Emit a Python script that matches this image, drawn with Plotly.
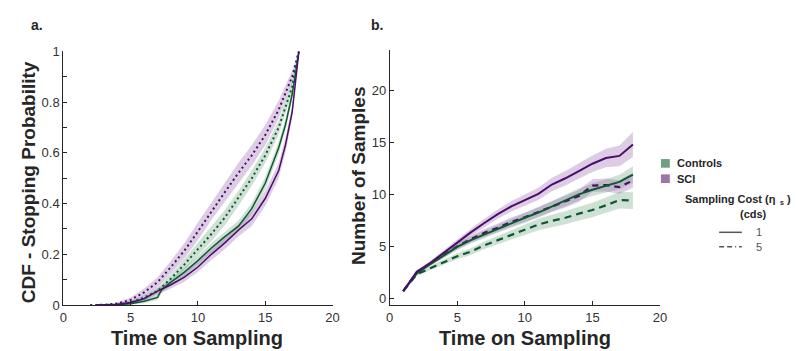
import plotly.graph_objects as go

# ---------------- Panel a: CDF of stopping time ----------------
a_t_sci_c1 = [2.5, 4, 5, 6, 7, 8, 9, 10, 11, 12, 13, 14, 15, 16, 16.5, 17, 17.5]
a_p_sci_c1 = [0, 0.002, 0.01, 0.025, 0.055, 0.08, 0.11, 0.15, 0.20, 0.245, 0.295, 0.34, 0.42, 0.53, 0.63, 0.76, 1.0]
a_e_sci_c1 = [0, 0.002, 0.005, 0.008, 0.012, 0.015, 0.018, 0.02, 0.022, 0.025, 0.025, 0.028, 0.03, 0.03, 0.03, 0.025, 0]

a_t_sci_c5 = [2, 3, 4, 5, 6, 7, 8, 9, 10, 11, 12, 13, 14, 15, 16, 17, 17.5]
a_p_sci_c5 = [0, 0.001, 0.006, 0.02, 0.05, 0.09, 0.15, 0.215, 0.29, 0.37, 0.445, 0.52, 0.59, 0.67, 0.77, 0.9, 1.0]
a_e_sci_c5 = [0, 0.001, 0.004, 0.01, 0.015, 0.02, 0.025, 0.03, 0.035, 0.035, 0.038, 0.04, 0.04, 0.04, 0.035, 0.025, 0]

a_t_con_c1 = [2.5, 4, 5, 6, 7, 7.3, 8, 9, 10, 11, 12, 13, 14, 15, 16, 16.5, 17, 17.5]
a_p_con_c1 = [0, 0.001, 0.005, 0.015, 0.03, 0.06, 0.09, 0.13, 0.175, 0.225, 0.27, 0.31, 0.38, 0.48, 0.62, 0.71, 0.83, 1.0]
a_e_con_c1 = [0, 0.001, 0.004, 0.008, 0.01, 0.012, 0.014, 0.016, 0.018, 0.02, 0.02, 0.022, 0.022, 0.024, 0.024, 0.022, 0.018, 0]

a_t_con_c5 = [2.5, 4, 5, 6, 7, 8, 9, 10, 11, 12, 13, 14, 15, 16, 17, 17.5]
a_p_con_c5 = [0, 0.002, 0.01, 0.03, 0.055, 0.105, 0.16, 0.22, 0.28, 0.345, 0.42, 0.5, 0.59, 0.7, 0.86, 1.0]
a_e_con_c5 = [0, 0.002, 0.006, 0.01, 0.014, 0.018, 0.022, 0.025, 0.028, 0.03, 0.03, 0.03, 0.03, 0.028, 0.022, 0]

# ---------------- Panel b: number of samples ----------------
b_t = list(range(1, 19))
b_sci_c1 = [0.7, 2.55, 3.4, 4.4, 5.4, 6.35, 7.25, 8.1, 8.85, 9.45, 10.05, 10.95, 11.55, 12.25, 12.95, 13.5, 13.7, 14.8]
b_sci_c1_e = [0.1, 0.15, 0.2, 0.25, 0.3, 0.35, 0.4, 0.45, 0.5, 0.55, 0.6, 0.65, 0.7, 0.75, 0.8, 0.9, 1.0, 1.2]
b_con_c1 = [0.7, 2.4, 3.3, 4.15, 4.95, 5.6, 6.15, 6.7, 7.2, 7.75, 8.25, 8.85, 9.45, 10.0, 10.45, 10.85, 11.2, 11.9]
b_con_c1_e = [0.1, 0.15, 0.2, 0.25, 0.3, 0.33, 0.36, 0.4, 0.43, 0.46, 0.5, 0.52, 0.55, 0.58, 0.6, 0.65, 0.7, 0.8]
b_sci_c5 = [0.7, 2.5, 3.35, 4.2, 5.0, 5.7, 6.3, 6.8, 7.35, 7.8, 8.3, 8.85, 9.3, 9.85, 10.85, 10.9, 10.7, 11.35]
b_sci_c5_e = [0.1, 0.15, 0.2, 0.25, 0.3, 0.33, 0.36, 0.4, 0.43, 0.46, 0.5, 0.52, 0.55, 0.58, 0.6, 0.62, 0.65, 0.7]
b_con_c5 = [0.7, 2.3, 2.9, 3.5, 4.05, 4.5, 5.1, 5.6, 6.1, 6.6, 7.1, 7.45, 7.75, 8.15, 8.5, 8.95, 9.45, 9.4]
b_con_c5_e = [0.1, 0.15, 0.2, 0.25, 0.3, 0.33, 0.36, 0.4, 0.45, 0.5, 0.55, 0.6, 0.62, 0.65, 0.7, 0.75, 0.8, 0.8]

x_ticks = [0, 5, 10, 15, 20]
a_y_ticks = [0, 0.2, 0.4, 0.6, 0.8, 1]
b_y_ticks = [0, 5, 10, 15, 20]

PURPLE = "#4b0c6b"
GREEN = "#0d5a30"
PURPLE_BAND = "rgba(150,100,170,0.32)"
GREEN_BAND = "rgba(95,155,115,0.30)"
AXC = "#262626"
TICKC = "#333333"
FONT = "Liberation Sans, Arial, sans-serif"

fig = go.Figure()


def band(x, y, e, color, xa, ya):
    up = [v + d for v, d in zip(y, e)]
    lo = [v - d for v, d in zip(y, e)]
    fig.add_trace(go.Scatter(x=list(x) + list(x)[::-1], y=up + lo[::-1], fill="toself",
                             fillcolor=color, line=dict(width=0), mode="lines",
                             hoverinfo="skip", showlegend=False, xaxis=xa, yaxis=ya))


def line(x, y, color, dash, width, xa, ya):
    fig.add_trace(go.Scatter(x=x, y=y, mode="lines", line=dict(color=color, width=width, dash=dash),
                             showlegend=False, xaxis=xa, yaxis=ya))


# panel a bands
band(a_t_sci_c5, a_p_sci_c5, a_e_sci_c5, PURPLE_BAND, "x", "y")
band(a_t_con_c5, a_p_con_c5, a_e_con_c5, GREEN_BAND, "x", "y")
band(a_t_con_c1, a_p_con_c1, a_e_con_c1, GREEN_BAND, "x", "y")
band(a_t_sci_c1, a_p_sci_c1, a_e_sci_c1, PURPLE_BAND, "x", "y")
# panel a lines
line(a_t_sci_c5, a_p_sci_c5, PURPLE, "2px,3px", 2, "x", "y")
line(a_t_con_c5, a_p_con_c5, GREEN, "2px,3px", 2, "x", "y")
line(a_t_con_c1, a_p_con_c1, GREEN, "solid", 1.5, "x", "y")
line(a_t_sci_c1, a_p_sci_c1, PURPLE, "solid", 1.5, "x", "y")

# panel b bands
band(b_t, b_sci_c1, b_sci_c1_e, PURPLE_BAND, "x2", "y2")
band(b_t, b_con_c5, b_con_c5_e, GREEN_BAND, "x2", "y2")
band(b_t, b_con_c1, b_con_c1_e, GREEN_BAND, "x2", "y2")
band(b_t, b_sci_c5, b_sci_c5_e, PURPLE_BAND, "x2", "y2")
# panel b lines
line(b_t, b_sci_c5, PURPLE, "6px,5px", 2.2, "x2", "y2")
line(b_t, b_con_c5, GREEN, "7px,5px", 2.2, "x2", "y2")
line(b_t, b_con_c1, GREEN, "solid", 2, "x2", "y2")
line(b_t, b_sci_c1, PURPLE, "solid", 2, "x2", "y2")

W, H = 800, 351

axis_common = dict(showline=True, linecolor=AXC, linewidth=1, ticks="inside", ticklen=4,
                   tickcolor=AXC, showgrid=False, zeroline=False,
                   tickfont=dict(family=FONT, size=13, color=TICKC))

fig.update_layout(
    width=W, height=H, margin=dict(l=0, r=0, t=0, b=0),
    paper_bgcolor="white", plot_bgcolor="white", showlegend=False,
    xaxis=dict(domain=[52 / W, 325 / W], range=[0, 20], tickvals=x_ticks, anchor="y", **axis_common),
    yaxis=dict(domain=[(H - 303) / H, (H - 38) / H], range=[0, 1], tickvals=a_y_ticks, anchor="x",
               minor=dict(dtick=0.1, ticks="inside", ticklen=4, tickcolor=AXC), **axis_common),
    xaxis2=dict(domain=[383 / W, 657 / W], range=[0, 20], tickvals=x_ticks, anchor="y2", **axis_common),
    yaxis2=dict(domain=[(H - 303) / H, (H - 37) / H], range=[-0.645, 23.85], tickvals=b_y_ticks,
                anchor="x2", **axis_common),
)

ann = []


def txt(x, y, s, size, bold=False, xanchor="center", angle=0, color=AXC):
    ann.append(dict(x=x / W, y=1 - y / H, xref="paper", yref="paper", text=("<b>%s</b>" % s) if bold else s,
                    showarrow=False, xanchor=xanchor, yanchor="middle", textangle=angle,
                    font=dict(family=FONT, size=size, color=color)))


txt(25, 10, "a.", 14, bold=True)
txt(370, 10, "b.", 14, bold=True)
txt(188, 337, "Time on Sampling", 20, bold=True)
txt(520, 337, "Time on Sampling", 20, bold=True)
txt(17, 175, "CDF - Stopping Probability", 19, bold=True, angle=-90)
txt(352, 168, "Number of Samples", 19, bold=True, angle=-90)

# legend
txt(672, 155, "Controls", 11, bold=True, xanchor="left")
txt(672, 171, "SCI", 11, bold=True, xanchor="left")
txt(777, 192, "Sampling Cost (η", 11, bold=True, xanchor="right")
txt(777, 196, "s", 7, bold=True, xanchor="left")
txt(784, 192, ")", 11, bold=True, xanchor="left")
txt(752, 208, "(cds)", 11, bold=True)
txt(757, 227, "1", 11, color="#555555")
txt(757, 242, "5", 11, color="#555555")

fig.update_layout(annotations=ann)

shapes = [
    dict(type="rect", xref="paper", yref="paper", x0=658 / W, x1=667 / W, y0=1 - 159.5 / H, y1=1 - 150.5 / H,
         fillcolor="#6f9f80", line=dict(width=0)),
    dict(type="rect", xref="paper", yref="paper", x0=658 / W, x1=667 / W, y0=1 - 175.5 / H, y1=1 - 166.5 / H,
         fillcolor="#9b76a9", line=dict(width=0)),
    dict(type="line", xref="paper", yref="paper", x0=717 / W, x1=740 / W, y0=1 - 227 / H, y1=1 - 227 / H,
         line=dict(color="#555555", width=1.5)),
    dict(type="line", xref="paper", yref="paper", x0=717 / W, x1=740 / W, y0=1 - 242 / H, y1=1 - 242 / H,
         line=dict(color="#555555", width=1.5, dash="5px,3px,5px,3px,1px,3px")),
]
fig.update_layout(shapes=shapes)

fig.write_html("out.html")
